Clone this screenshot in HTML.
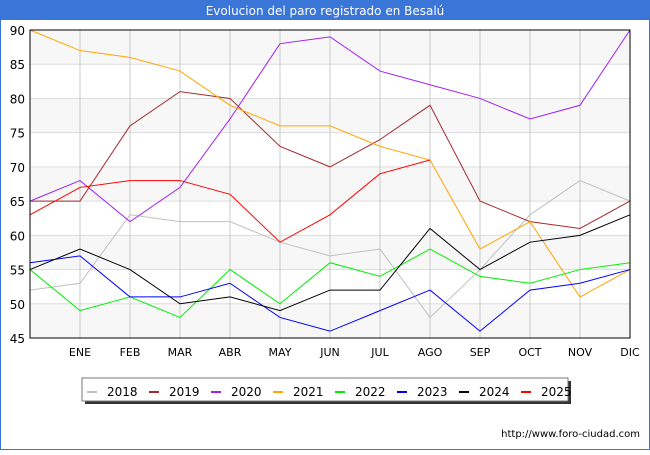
<!DOCTYPE html>
<html><head><meta charset="utf-8"><style>
body{margin:0;background:#fff;font-family:"Liberation Sans","DejaVu Sans",sans-serif}
svg text{font-family:"DejaVu Sans","Liberation Sans",sans-serif}
</style></head><body>
<svg id="c" width="650" height="450" xmlns="http://www.w3.org/2000/svg">
<rect x="0" y="0" width="650" height="450" fill="#fff" stroke="#3a75d8" stroke-width="2"/>
<rect x="0" y="0" width="650" height="20" fill="#3a75d8"/>
<text x="325" y="15" text-anchor="middle" font-size="12" fill="#fff">Evolucion del paro registrado en Besalú</text>
<g id="grid"></g><g id="series"></g>
<rect x="30" y="30" width="600" height="308" fill="none" stroke="#000" stroke-width="1"/>
<g id="legend"></g>
<text x="640" y="437" text-anchor="end" font-size="10" fill="#000">http://www.foro-ciudad.com</text>
</svg>
<script>
const months=["","ENE","FEB","MAR","ABR","MAY","JUN","JUL","AGO","SEP","OCT","NOV","DIC"];
const yTicks=[45,50,55,60,65,70,75,80,85,90];
const years=["2018","2019","2020","2021","2022","2023","2024","2025"];
const colors=["#c0c0c0","#a52a2a","#a020f0","#ffa500","#00ee00","#0000ff","#000000","#ff0000"];
const s2018=[52,53,63,62,62,59,57,58,48,55,63,68,65];
const s2019=[65,65,76,81,80,73,70,74,79,65,62,61,65];
const s2020=[65,68,62,67,77,88,89,84,82,80,77,79,90];
const s2021=[90,87,86,84,79,76,76,73,71,58,62,51,55];
const s2022=[55,49,51,48,55,50,56,54,58,54,53,55,56];
const s2023=[56,57,51,51,53,48,46,49,52,46,52,53,55];
const s2024=[55,58,55,50,51,49,52,52,61,55,59,60,63];
const s2025=[63,67,68,68,66,59,63,69,71];
const series=[s2018,s2019,s2020,s2021,s2022,s2023,s2024,s2025];
const NS="http://www.w3.org/2000/svg";
const X=i=>30+i*600/12, Y=v=>338-(v-45)*308/45;
function mk(t,a,p){const e=document.createElementNS(NS,t);for(const k in a)e.setAttribute(k,a[k]);p.appendChild(e);return e;}
const g=document.getElementById('grid');
for(let i=0;i<yTicks.length-1;i++){
 if(i%2==0){const b=mk('rect',{x:30,y:Y(yTicks[i+1]),width:600,height:Y(yTicks[i])-Y(yTicks[i+1]),fill:'#f7f7f7'},g);
 
 }
}
yTicks.forEach(v=>{
 const l=mk('line',{x1:30,x2:630,y1:Y(v),y2:Y(v),stroke:'#dddddd'},g);
 
 
 const t=mk('text',{x:25,y:Y(v)+5,'text-anchor':'end','font-size':'12',fill:'#000'},g);t.textContent=v;
 
 
});
months.forEach((m,i)=>{
 if(i==0)return;
 const l=mk('line',{x1:X(i),x2:X(i),y1:30,y2:338,stroke:'#c8c8c8'},g);
 
 
 const t=mk('text',{x:X(i),y:356,'text-anchor':'middle','font-size':'11',fill:'#000'},g);t.textContent=m;
 
 
});
const sg=document.getElementById('series');
series.forEach((s,k)=>{
 const p=mk('polyline',{points:s.map((v,i)=>X(i)+','+Y(v)).join(' '),fill:'none',stroke:colors[k],'stroke-width':'1'},sg);
 
 
});
const lg=document.getElementById('legend');
mk('rect',{x:85,y:381,width:486,height:23,fill:'#333'},lg);
const box=mk('rect',{x:82,y:378,width:486,height:23,fill:'#fff',stroke:'#777'},lg);


years.forEach((y,k)=>{
 const x0=87+k*62;
 const r=mk('rect',{x:x0,y:391,width:10,height:2,fill:colors[k]},lg);
 
 
 const t=mk('text',{x:x0+20,y:396,'font-size':'12',fill:'#000'},lg);t.textContent=y;
 
 
});
</script>
</body></html>
